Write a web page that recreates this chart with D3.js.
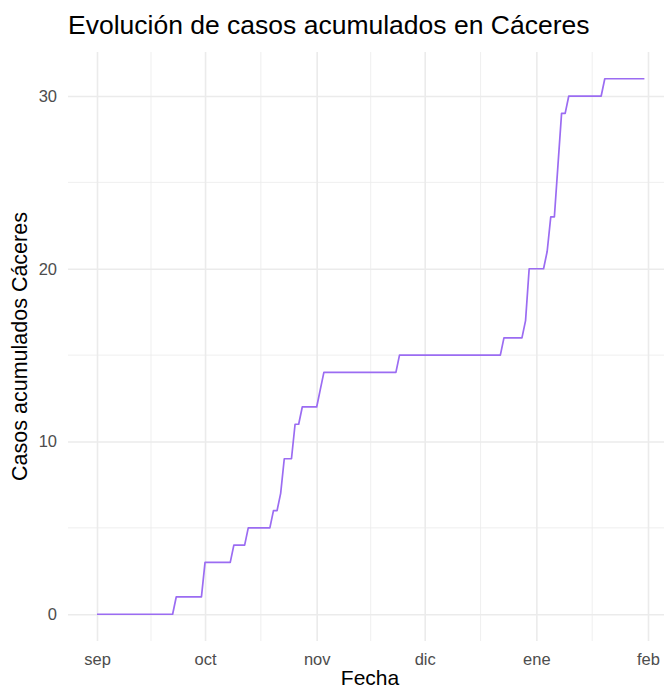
<!DOCTYPE html>
<html>
<head>
<meta charset="utf-8">
<script src="https://cdn.jsdelivr.net/npm/d3@7"></script>
<style>
  body { margin: 0; background: #fff; }
  svg { display: block; font-family: "Liberation Sans", Arial, sans-serif; }
</style>
</head>
<body>
<div id="chart"></div>
<script>
// casos acumulados (puntos de cambio, serie diaria)
const fechas = [
  "2020-09-01", "2020-09-22", "2020-09-23", "2020-09-30", "2020-10-01",
  "2020-10-08", "2020-10-09", "2020-10-12", "2020-10-13", "2020-10-19",
  "2020-10-20", "2020-10-21", "2020-10-22", "2020-10-23", "2020-10-25",
  "2020-10-26", "2020-10-27", "2020-10-28", "2020-11-01", "2020-11-02",
  "2020-11-03", "2020-11-23", "2020-11-24", "2020-12-22", "2020-12-23",
  "2020-12-28", "2020-12-29", "2020-12-30", "2021-01-03", "2021-01-04",
  "2021-01-05", "2021-01-06", "2021-01-07", "2021-01-08", "2021-01-09",
  "2021-01-10", "2021-01-19", "2021-01-20", "2021-01-31"
];
const casos = [
  0, 0, 1, 1, 3,
  3, 4, 4, 5, 5,
  6, 6, 7, 9, 9,
  11, 11, 12, 12, 13,
  14, 14, 15, 15, 16,
  16, 17, 20, 20, 21,
  23, 23, 26, 29, 29,
  30, 30, 31, 31
];
const mesesFechas = ["2020-09-01", "2020-10-01", "2020-11-01", "2020-12-01", "2021-01-01", "2021-02-01"];
const mesesEtiquetas = ["sep", "oct", "nov", "dic", "ene", "feb"];
const yTicks = [0, 10, 20, 30];

const width = 664, height = 691;
const panel = { left: 68, right: 672, top: 52, bottom: 641 };

const parse = d3.utcParse("%Y-%m-%d");
const data = fechas.map((f, i) => ({ fecha: parse(f), casos: casos[i] }));
const mesesDates = mesesFechas.map(parse);

const x = d3.scaleUtc()
  .domain([mesesDates[0], mesesDates[mesesDates.length - 1]])
  .range([97, 648]);

const y = d3.scaleLinear()
  .domain([-1.55, 32.55])
  .range([panel.bottom, panel.top]);

const svg = d3.select("#chart").append("svg")
  .attr("width", width)
  .attr("height", height);

const grid = "#EBEBEB";

// minor grid
const xMinor = d3.pairs(mesesDates).map(([a, b]) => new Date((+a + +b) / 2));
const yMinor = d3.pairs(yTicks).map(([a, b]) => (a + b) / 2);

svg.append("g").selectAll("line")
  .data(xMinor)
  .join("line")
  .attr("x1", d => x(d)).attr("x2", d => x(d))
  .attr("y1", panel.top).attr("y2", panel.bottom)
  .attr("stroke", grid).attr("stroke-width", 0.8);

svg.append("g").selectAll("line")
  .data(yMinor)
  .join("line")
  .attr("x1", panel.left).attr("x2", panel.right)
  .attr("y1", d => y(d)).attr("y2", d => y(d))
  .attr("stroke", grid).attr("stroke-width", 0.8);

// major grid + axes
const xAxis = svg.append("g")
  .attr("transform", `translate(0,${panel.bottom})`)
  .call(d3.axisBottom(x)
    .tickValues(mesesDates)
    .tickFormat((d, i) => mesesEtiquetas[i])
    .tickSize(-(panel.bottom - panel.top))
    .tickPadding(12));

const yAxis = svg.append("g")
  .attr("transform", `translate(${panel.left},0)`)
  .call(d3.axisLeft(y)
    .tickValues(yTicks)
    .tickSize(-(panel.right - panel.left))
    .tickPadding(11));

[xAxis, yAxis].forEach(ax => {
  ax.select(".domain").remove();
  ax.selectAll(".tick line").attr("stroke", grid).attr("stroke-width", 1.6);
  ax.selectAll(".tick text")
    .attr("fill", "#4D4D4D")
    .style("font-size", "16.5px");
});
xAxis.selectAll(".tick text").attr("dy", "0.71em");

// line
const line = d3.line()
  .x(d => x(d.fecha))
  .y(d => y(d.casos));

svg.append("path")
  .datum(data)
  .attr("d", line)
  .attr("fill", "none")
  .attr("stroke", "#9B6CF2")
  .attr("stroke-width", 1.7)
  .attr("stroke-linejoin", "round");

// titles
svg.append("text")
  .attr("x", 68).attr("y", 34)
  .attr("fill", "#000")
  .style("font-size", "26.5px")
  .text("Evolución de casos acumulados en Cáceres");

svg.append("text")
  .attr("x", (panel.left + panel.right) / 2).attr("y", 685)
  .attr("text-anchor", "middle")
  .attr("fill", "#000")
  .style("font-size", "21px")
  .text("Fecha");

svg.append("text")
  .attr("transform", `translate(27,${(panel.top + panel.bottom) / 2}) rotate(-90)`)
  .attr("text-anchor", "middle")
  .attr("fill", "#000")
  .style("font-size", "21.5px")
  .text("Casos acumulados Cáceres");
</script>
</body>
</html>
